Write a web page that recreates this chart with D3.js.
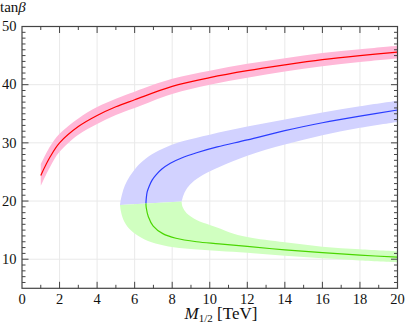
<!DOCTYPE html>
<html lang="en">
    <head>
        <meta charset="utf-8">
        <title>tan beta vs M1/2</title>
        <script type="text/javascript" src="https://cdn.jsdelivr.net/npm/d3@7"></script>
        <style type="text/css">
            body { margin: 0; background: white; }
        </style>
    </head>

    <body>
        <script type="text/javascript">
            // Red curve (tan beta vs M1/2) and its band
            var redX  = [1, 1.5, 2, 3, 4, 5, 6, 8, 10, 12, 14, 16, 18, 20];
            var redY  = [24.4, 27.6, 30.0, 32.8, 34.7, 36.2, 37.4, 39.7, 41.2, 42.4, 43.4, 44.3, 45.0, 45.6];
            var redLo = [22.6, 25.9, 28.45, 31.4, 33.25, 34.8, 36.0, 38.4, 40.0, 41.2, 42.25, 43.15, 43.9, 44.5];
            var redHi = [26.3, 29.4, 31.55, 34.2, 36.15, 37.6, 38.8, 41.0, 42.4, 43.6, 44.55, 45.45, 46.1, 46.7];

            // Blue (upper) and green (lower) branches of the second curve
            var blueX  = [6.6, 6.62, 6.67, 6.78, 6.93, 7.14, 7.45, 7.9, 8.5, 9.3, 10.4, 12, 14, 16, 18, 20];
            var blueY  = [19.6, 20.5, 21.6, 22.6, 23.6, 24.5, 25.5, 26.5, 27.4, 28.3, 29.3, 30.5, 32.1, 33.45, 34.6, 35.65];
            var greenX = [6.6, 6.62, 6.73, 6.99, 7.5, 8.2, 9.3, 10.5, 12, 14, 16, 18, 20];
            var greenY = [19.6, 18.8, 17.3, 15.7, 14.4, 13.6, 13.0, 12.65, 12.2, 11.6, 11.12, 10.7, 10.35];

            // band edges, from the nose outwards
            var blueOuterX  = [5.22, 5.28, 5.4, 5.6, 5.9, 6.3, 6.9, 7.7, 8.6, 10, 12, 14, 16, 18, 20];
            var blueOuterY  = [19.3, 20.5, 22.0, 23.5, 25.0, 26.5, 28.0, 29.3, 30.3, 31.4, 32.8, 34.0, 35.2, 36.3, 37.25];
            var blueInnerX  = [8.5, 8.6, 8.75, 9.04, 9.65, 10.54, 12, 14, 16, 18, 20];
            var blueInnerY  = [19.9, 21.0, 22.0, 23.1, 24.5, 25.9, 27.8, 29.7, 31.3, 32.6, 33.6];
            var greenOuterX = [5.22, 5.27, 5.4, 5.7, 6.2, 6.9, 7.8, 9, 10.5, 12, 14, 16, 18, 20];
            var greenOuterY = [19.3, 18.2, 16.8, 15.3, 14.0, 12.9, 12.2, 11.75, 11.4, 11.1, 10.6, 10.15, 9.78, 9.45];
            var greenInnerX = [8.5, 8.55, 8.77, 9.3, 10.0, 10.54, 11.07, 12, 14, 16, 18, 20];
            var greenInnerY = [19.9, 19.0, 17.9, 16.75, 15.9, 15.3, 14.6, 13.8, 12.9, 12.15, 11.7, 11.35];

            var xTicks = [0, 2, 4, 6, 8, 10, 12, 14, 16, 18, 20];
            var yTicks = [10, 20, 30, 40, 50];

            var w = 405;
            var h = 330;
            var pLeft = 22, pRight = 397.5, pTop = 26.5, pBottom = 288.3;
            var serif = "'Liberation Serif', 'Times New Roman', serif";

            var xScale = d3.scaleLinear().domain([0, 20]).range([pLeft, pRight]);
            var yScale = d3.scaleLinear().domain([5, 50]).range([pBottom, pTop]);

            var svg = d3.select("body")
                        .append("svg")
                        .attr("width", w)
                        .attr("height", h);

            svg.append("clipPath")
                .attr("id", "plotclip")
                .append("rect")
                .attr("x", pLeft)
                .attr("y", pTop)
                .attr("width", pRight - pLeft)
                .attr("height", pBottom - pTop);

            // grid
            var grid = svg.append("g").attr("stroke", "#e9e9e9").attr("stroke-width", 1);
            grid.selectAll("line.gx")
                .data(xTicks.slice(1, -1))
                .enter()
                .append("line")
                .attr("x1", function(d) { return xScale(d); })
                .attr("x2", function(d) { return xScale(d); })
                .attr("y1", pTop)
                .attr("y2", pBottom);
            grid.selectAll("line.gy")
                .data(yTicks.slice(0, -1))
                .enter()
                .append("line")
                .attr("x1", pLeft)
                .attr("x2", pRight)
                .attr("y1", function(d) { return yScale(d); })
                .attr("y2", function(d) { return yScale(d); });

            function pts(xs, ys) {
                return xs.map(function(d, i) { return [d, ys[i]]; });
            }

            var line = d3.line()
                .x(function(d) { return xScale(d[0]); })
                .y(function(d) { return yScale(d[1]); })
                .curve(d3.curveCatmullRom.alpha(0.5));

            // band = one edge out, other edge back
            function band(a, b) {
                return line(a) + line(b.slice().reverse()).replace(/^M/, "L") + "Z";
            }

            var plot = svg.append("g").attr("clip-path", "url(#plotclip)");

            plot.append("path")
                .attr("d", band(pts(redX, redHi), pts(redX, redLo)))
                .attr("fill", "#ffb8d8");
            plot.append("path")
                .attr("d", band(pts(blueOuterX, blueOuterY), pts(blueInnerX, blueInnerY)))
                .attr("fill", "#d2d2ff");
            plot.append("path")
                .attr("d", band(pts(greenOuterX, greenOuterY), pts(greenInnerX, greenInnerY)))
                .attr("fill", "#d0ffc0");

            plot.append("path")
                .attr("d", line(pts(redX, redY)))
                .attr("fill", "none")
                .attr("stroke", "#ff0000")
                .attr("stroke-width", 1.2);
            plot.append("path")
                .attr("d", line(pts(blueX, blueY)))
                .attr("fill", "none")
                .attr("stroke", "#2a3cff")
                .attr("stroke-width", 1.2);
            plot.append("path")
                .attr("d", line(pts(greenX, greenY)))
                .attr("fill", "none")
                .attr("stroke", "#4ad600")
                .attr("stroke-width", 1.2);

            // frame and inward ticks on all sides
            svg.append("rect")
                .attr("x", pLeft)
                .attr("y", pTop)
                .attr("width", pRight - pLeft)
                .attr("height", pBottom - pTop)
                .attr("fill", "none")
                .attr("stroke", "#444")
                .attr("stroke-width", 1.2);

            var ticks = svg.append("g").attr("stroke", "#444").attr("stroke-width", 1);
            var xMinor = d3.range(1, 20, 1);
            ticks.selectAll("line.xb")
                .data(xMinor)
                .enter()
                .append("line")
                .attr("x1", function(d) { return xScale(d); })
                .attr("x2", function(d) { return xScale(d); })
                .attr("y1", pBottom)
                .attr("y2", function(d) { return pBottom - (d % 2 === 0 ? 6.5 : 3.5); });
            ticks.selectAll("line.xt")
                .data(xMinor)
                .enter()
                .append("line")
                .attr("x1", function(d) { return xScale(d); })
                .attr("x2", function(d) { return xScale(d); })
                .attr("y1", pTop)
                .attr("y2", function(d) { return pTop + (d % 2 === 0 ? 6.5 : 3.5); });
            var yMinor = d3.range(6, 50, 1);
            ticks.selectAll("line.yl")
                .data(yMinor)
                .enter()
                .append("line")
                .attr("x1", pLeft)
                .attr("x2", function(d) { return pLeft + (d % 10 === 0 ? 6.5 : 3.5); })
                .attr("y1", function(d) { return yScale(d); })
                .attr("y2", function(d) { return yScale(d); });
            ticks.selectAll("line.yr")
                .data(yMinor)
                .enter()
                .append("line")
                .attr("x1", pRight)
                .attr("x2", function(d) { return pRight - (d % 10 === 0 ? 6.5 : 3.5); })
                .attr("y1", function(d) { return yScale(d); })
                .attr("y2", function(d) { return yScale(d); });

            // tick labels
            svg.selectAll("text.xl")
                .data(xTicks)
                .enter()
                .append("text")
                .text(function(d) { return d; })
                .attr("x", function(d) { return xScale(d); })
                .attr("y", 303.5)
                .attr("font-family", serif)
                .attr("font-size", "14.5px")
                .attr("fill", "#111")
                .attr("text-anchor", "middle");
            svg.selectAll("text.yl")
                .data(yTicks)
                .enter()
                .append("text")
                .text(function(d) { return d; })
                .attr("x", 16.5)
                .attr("y", function(d) { return yScale(d) + 4.8; })
                .attr("font-family", serif)
                .attr("font-size", "14.5px")
                .attr("fill", "#111")
                .attr("text-anchor", "end");

            // axis titles
            var yt = svg.append("text")
                .attr("x", 0)
                .attr("y", 11.5)
                .attr("font-family", serif)
                .attr("font-size", "15px")
                .attr("fill", "#111");
            yt.append("tspan").text("tan");
            yt.append("tspan").attr("font-style", "italic").text("β");

            var xt = svg.append("text")
                .attr("x", 221)
                .attr("y", 319)
                .attr("font-family", serif)
                .attr("font-size", "17px")
                .attr("fill", "#111")
                .attr("text-anchor", "middle");
            xt.append("tspan").attr("font-style", "italic").text("M");
            xt.append("tspan").attr("font-size", "11px").attr("dy", 3).text("1/2");
            xt.append("tspan").attr("dy", -3).text(" [TeV]");
        </script>
    </body>
</html>
